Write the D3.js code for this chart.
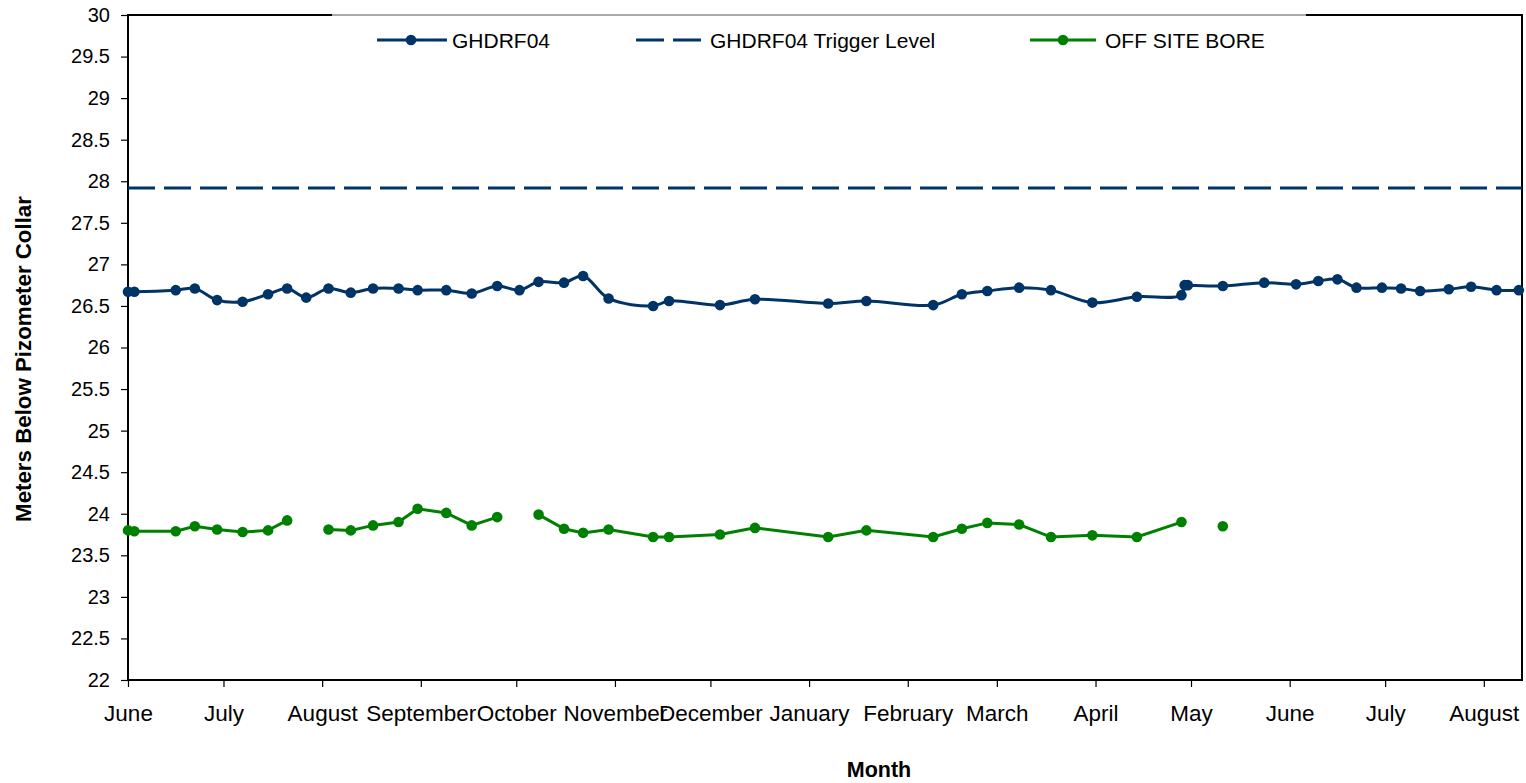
<!DOCTYPE html>
<html>
<head>
<meta charset="utf-8">
<script src="https://cdn.jsdelivr.net/npm/d3@7/dist/d3.min.js"></script>
<style>
  html, body { margin: 0; padding: 0; background: #fff; }
  svg { display: block; font-family: "Liberation Sans", Arial, sans-serif; }
</style>
</head>
<body>
<svg id="chart" width="1526" height="783"></svg>
<script>
// ---------------- DATA ----------------
const dates = [
  "2009-06-01","2009-06-03","2009-06-16","2009-06-22","2009-06-29","2009-07-07","2009-07-15","2009-07-21",
  "2009-07-27","2009-08-03","2009-08-10","2009-08-17","2009-08-25","2009-08-31","2009-09-09","2009-09-17",
  "2009-09-25","2009-10-02","2009-10-08","2009-10-16","2009-10-22","2009-10-30","2009-11-13","2009-11-18",
  "2009-12-04","2009-12-15","2010-01-07","2010-01-19","2010-02-09","2010-02-18","2010-02-26","2010-03-08",
  "2010-03-18","2010-03-31","2010-04-14","2010-04-28","2010-04-29","2010-04-30","2010-05-11","2010-05-24",
  "2010-06-03","2010-06-10","2010-06-16","2010-06-22","2010-06-30","2010-07-06","2010-07-12","2010-07-21",
  "2010-07-28","2010-08-05","2010-08-12"
];
const ghdrf04 = [
  26.67,26.67,26.69,26.71,26.57,26.55,26.64,26.71,
  26.60,26.71,26.66,26.71,26.71,26.69,26.69,26.65,
  26.74,26.69,26.79,26.78,26.86,26.59,26.50,26.56,
  26.51,26.58,26.53,26.56,26.51,26.64,26.68,26.72,
  26.69,26.54,26.61,26.63,26.75,26.75,26.74,26.78,
  26.76,26.80,26.82,26.72,26.72,26.71,26.68,26.70,
  26.73,26.69,26.69
];
const offSiteBore = [
  23.80,23.79,23.79,23.85,23.81,23.78,23.80,23.92,
  null,23.81,23.80,23.86,23.90,24.06,24.01,23.86,
  23.96,null,23.99,23.82,23.77,23.81,23.72,23.72,
  23.75,23.83,23.72,23.80,23.72,23.82,23.89,23.87,
  23.72,23.74,23.72,23.90,null,null,23.85,null,
  null,null,null,null,null,null,null,null,
  null,null,null
];
const triggerLevel = 27.92;
const yTickValues = [22,22.5,23,23.5,24,24.5,25,25.5,26,26.5,27,27.5,28,28.5,29,29.5,30];
const xDomain = ["2009-06-01","2010-08-13"];
const seriesNames = ["GHDRF04","GHDRF04 Trigger Level","OFF SITE BORE"];

// ---------------- CHART ----------------
const parse = d3.timeParse("%Y-%m-%d");
const navy = "#003366", green = "#008000";
const svg = d3.select("#chart");
const L = 128, R = 1522, T = 15, B = 680;

const x = d3.scaleTime().domain(xDomain.map(parse)).range([L, R]);
const y = d3.scaleLinear().domain([22, 30]).range([B, T]);

const rows = dates.map((d, i) => ({ date: parse(d), g: ghdrf04[i], o: offSiteBore[i] }));

// axes
const yAxis = d3.axisLeft(y).tickValues(yTickValues).tickSize(7).tickPadding(11)
  .tickFormat(d3.format("~g"));
const gy = svg.append("g").attr("transform", `translate(${L},0)`).call(yAxis);
gy.select(".domain").remove();
gy.selectAll(".tick line").attr("stroke", "#000").attr("stroke-width", 1.2);
gy.selectAll(".tick text").attr("font-size", 20).attr("fill", "#000")
  .attr("font-family", "Liberation Sans, Arial, sans-serif");

const xAxis = d3.axisBottom(x).ticks(d3.timeMonth.every(1)).tickSize(7).tickPadding(18)
  .tickFormat(d3.timeFormat("%B"));
const gx = svg.append("g").attr("transform", `translate(0,${B})`).call(xAxis);
gx.select(".domain").remove();
gx.selectAll(".tick line").attr("stroke", "#000").attr("stroke-width", 1.2);
gx.selectAll(".tick text").attr("font-size", 22.5).attr("fill", "#000")
  .attr("font-family", "Liberation Sans, Arial, sans-serif");

// frame
svg.append("rect").attr("x", L).attr("y", T).attr("width", R - L).attr("height", B - T)
  .attr("fill", "none").attr("stroke", "#000").attr("stroke-width", 2);
// legend box top edge (over frame)
svg.append("line").attr("x1", 332).attr("x2", 1306).attr("y1", T).attr("y2", T)
  .attr("stroke", "#fff").attr("stroke-width", 3);
svg.append("line").attr("x1", 332).attr("x2", 1306).attr("y1", T).attr("y2", T)
  .attr("stroke", "#8c8c8c").attr("stroke-width", 1.5);

// trigger level
svg.append("line").attr("x1", x.range()[0]).attr("x2", x.range()[1])
  .attr("y1", y(triggerLevel)).attr("y2", y(triggerLevel))
  .attr("stroke", navy).attr("stroke-width", 3).attr("stroke-dasharray", "27,9");

// GHDRF04 smoothed line
const lineG = d3.line().x(d => x(d.date)).y(d => y(d.g)).curve(d3.curveCatmullRom.alpha(0.5));
svg.append("path").datum(rows).attr("d", lineG).attr("fill", "none")
  .attr("stroke", navy).attr("stroke-width", 3);
svg.append("g").selectAll("circle").data(rows).join("circle")
  .attr("cx", d => x(d.date)).attr("cy", d => y(d.g)).attr("r", 5.3).attr("fill", navy);

// OFF SITE BORE
const lineO = d3.line().defined(d => d.o != null).x(d => x(d.date)).y(d => y(d.o));
svg.append("path").datum(rows).attr("d", lineO).attr("fill", "none")
  .attr("stroke", green).attr("stroke-width", 3);
svg.append("g").selectAll("circle").data(rows.filter(d => d.o != null)).join("circle")
  .attr("cx", d => x(d.date)).attr("cy", d => y(d.o)).attr("r", 5.3).attr("fill", green);

// legend
const lg = svg.append("g").attr("font-size", 21).attr("fill", "#000");
const ly = 40;
lg.append("line").attr("x1", 377).attr("x2", 447).attr("y1", ly).attr("y2", ly)
  .attr("stroke", navy).attr("stroke-width", 3);
lg.append("circle").attr("cx", 411).attr("cy", ly).attr("r", 5.3).attr("fill", navy);
lg.append("text").attr("x", 452).attr("y", ly).attr("dy", "0.36em").text(seriesNames[0]);
lg.append("line").attr("x1", 636).attr("x2", 701).attr("y1", ly).attr("y2", ly)
  .attr("stroke", navy).attr("stroke-width", 3).attr("stroke-dasharray", "28,9");
lg.append("text").attr("x", 710).attr("y", ly).attr("dy", "0.36em").text(seriesNames[1]);
lg.append("line").attr("x1", 1030).attr("x2", 1096).attr("y1", ly).attr("y2", ly)
  .attr("stroke", green).attr("stroke-width", 3);
lg.append("circle").attr("cx", 1063).attr("cy", ly).attr("r", 5.3).attr("fill", green);
lg.append("text").attr("x", 1105).attr("y", ly).attr("dy", "0.36em").text(seriesNames[2]);

// axis titles
svg.append("text").attr("x", 879).attr("y", 777).attr("text-anchor", "middle")
  .attr("font-size", 21.5).attr("font-weight", "bold").text("Month");
svg.append("text").attr("transform", "translate(31,359) rotate(-90)").attr("text-anchor", "middle")
  .attr("font-size", 22.3).attr("font-weight", "bold").text("Meters Below Pizometer Collar");
</script>
</body>
</html>
